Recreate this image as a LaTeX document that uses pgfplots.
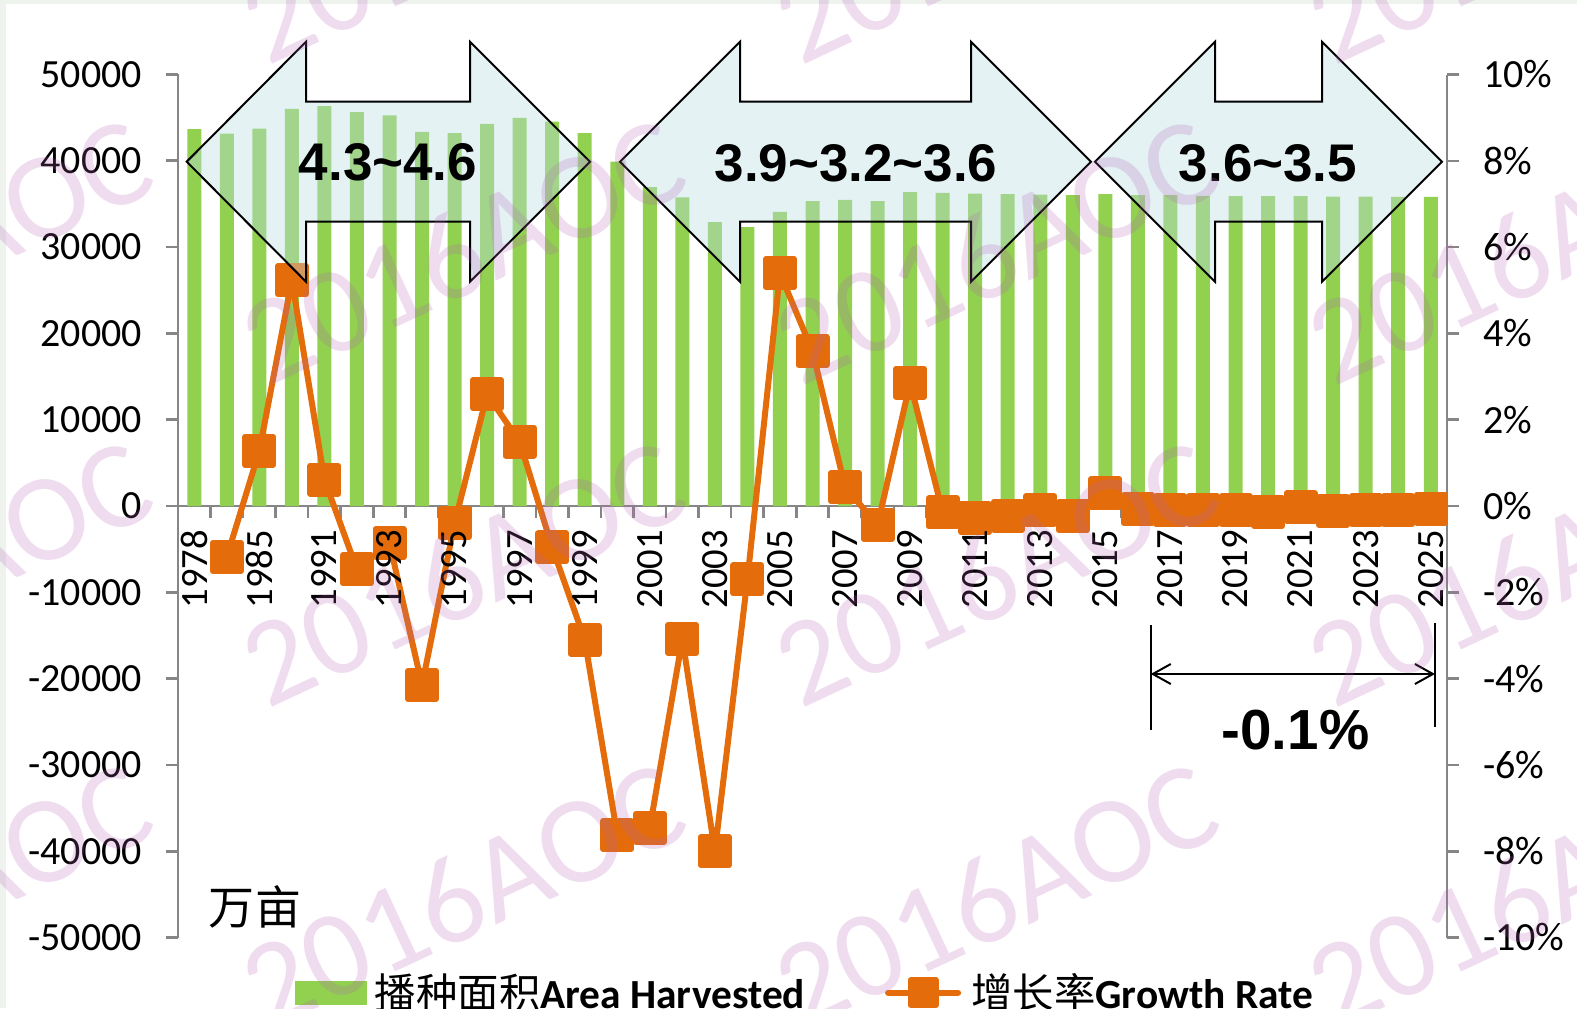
\documentclass[border=0pt]{standalone}
\usepackage{fontspec}
\setmainfont{Carlito}
\newfontfamily\cjk{Noto Sans CJK SC}
\newfontfamily\arialf{Liberation Sans}
\usepackage{pgfplots}
\pgfplotsset{compat=1.18}
\usetikzlibrary{arrows.meta}
\definecolor{barg}{RGB}{146,208,80}
\definecolor{lineo}{RGB}{228,108,10}
\definecolor{axg}{RGB}{134,134,134}
\definecolor{arrf}{RGB}{187,222,228}
\definecolor{wm}{RGB}{180,100,180}
\definecolor{bgc}{RGB}{238,243,238}
\newcommand\tickfont{\fontsize{20}{23}\selectfont}
\newcommand\xtickfont{\fontsize{19.3}{22}\selectfont}
\newcommand\legfont{\fontsize{20.7}{24}\selectfont}
\pgfplotsset{
  barleg/.style={legend image code/.code={\fill[barg] (0pt,-5.75pt) rectangle (35.5pt,5.75pt); \path (37.5pt,0pt);}},
  lineleg/.style={legend image code/.code={\draw[##1, line cap=round] (1.6pt,0pt) -- (36.6pt,0pt); \draw[##1, mark size=6.25pt] plot coordinates {(19.1pt,0pt)}; \path (39.7pt,0pt);}},
}
\pgfplotstableread{
x y
0 43660
1 43160
2 43740
3 46010
4 46320
5 45630
6 45250
7 43350
8 43200
9 44270
10 44970
11 44550
12 43200
13 39890
14 36940
15 35750
16 32880
17 32310
18 34080
19 35320
20 35470
21 35320
22 36360
23 36280
24 36210
25 36130
26 36090
27 36010
28 36130
29 36010
30 36010
31 35930
32 35900
33 35900
34 35900
35 35860
36 35860
37 35810
38 35810
}\areatab
\pgfplotstableread{
x y
1 -1.18
2 1.28
3 5.23
4 0.61
5 -1.47
6 -0.86
7 -4.15
8 -0.40
9 2.59
10 1.49
11 -0.96
12 -3.10
13 -7.62
14 -7.46
15 -3.08
16 -8.00
17 -1.70
18 5.39
19 3.59
20 0.44
21 -0.44
22 2.86
23 -0.15
24 -0.28
25 -0.23
26 -0.10
27 -0.24
28 0.30
29 -0.07
30 -0.10
31 -0.10
32 -0.10
33 -0.13
34 -0.03
35 -0.11
36 -0.10
37 -0.10
38 -0.06
}\ratetab
\begin{document}
\begin{tikzpicture}
\useasboundingbox (-89pt,-35.25pt) rectangle (699.5pt,468.75pt);
\begin{scope}[shift={(-89pt,468.75pt)}, x=0.5pt, y=-0.5pt]
\fill[bgc] (0,0) rectangle (6,1008);
\fill[bgc] (0,0) rectangle (1577,4);
\end{scope}
\begin{axis}[
  at={(0pt,0pt)}, anchor=south west,
  scale only axis, width=634.5pt, height=431.5pt,
  xmin=-0.5, xmax=38.5, ymin=-50000, ymax=50000,
  scaled y ticks=false,
  axis y line*=left, axis x line*=middle,
  axis line style={axg, line width=1.3pt},
  every tick/.style={axg, line width=1.3pt},
  tick align=outside,
  major tick length=6pt,
  ytick={-50000,-40000,-30000,-20000,-10000,0,10000,20000,30000,40000,50000},
  yticklabels={-50000,-40000,-30000,-20000,-10000,0,10000,20000,30000,40000,50000},
  yticklabel style={font=\tickfont, text=black, xshift=-8.5pt},
  xtick={0.5,1.5,...,37.5},
  xticklabels={},
  clip=false,
]
\addplot[ybar, bar width=7pt, fill=barg, draw=none] table[x=x,y=y] {\areatab};
\end{axis}
\begin{axis}[
  at={(0pt,0pt)}, anchor=south west,
  scale only axis, width=634.5pt, height=431.5pt,
  xmin=-0.5, xmax=38.5, ymin=-10, ymax=10,
  axis y line*=right, axis x line=none,
  y axis line style={axg, line width=1.3pt},
  every tick/.style={axg, line width=1.3pt},
  tick align=outside,
  major tick length=6pt,
  ytick={-10,-8,-6,-4,-2,0,2,4,6,8,10},
  yticklabels={-10\%,-8\%,-6\%,-4\%,-2\%,0\%,2\%,4\%,6\%,8\%,10\%},
  yticklabel style={font=\tickfont, text=black, xshift=8.5pt},
  clip=false,
  legend columns=2,
  legend style={at={(0.495,-0.064)}, anchor=center, draw=none, fill=none,
    font=\legfont, /tikz/every even column/.append style={column sep=38pt}},
  legend cell align=left,
]
\addlegendimage{barleg}
\addlegendentry{{\cjk 播种面积}\textbf{Area Harvested}}
\addplot[lineo, line width=3pt, line join=round, mark=square*, mark size=7pt,
  mark options={fill=lineo, draw=none}, lineleg]
  table[x=x,y=y] {\ratetab};
\addlegendentry{{\cjk 增长率}\textbf{Growth Rate}}
\end{axis}
\begin{axis}[
  at={(0pt,0pt)}, anchor=south west,
  scale only axis, width=634.5pt, height=431.5pt,
  xmin=-0.5, xmax=38.5, ymin=-10, ymax=10,
  axis y line=none, axis x line*=middle,
  x axis line style={draw=none},
  xtick=\empty,
  extra x ticks={0,2,...,38},
  extra x tick labels={1978,1985,1991,1993,1995,1997,1999,2001,2003,2005,2007,2009,2011,2013,2015,2017,2019,2021,2023,2025},
  extra x tick style={major tick length=0pt},
  xticklabel style={rotate=90, anchor=east, font=\xtickfont, text=black, xshift=-8.5pt},
  clip=false,
]
\end{axis}
\begin{scope}[shift={(-89pt,468.75pt)}, x=0.5pt, y=-0.5pt]
\filldraw[fill=arrf, fill opacity=0.4, draw=black, line width=1pt]
  (186.7,161.7) -- (306,41.7) -- (306,101.7) -- (470,101.7) -- (470,41.7) -- (590,161.7)
  -- (470,281.7) -- (470,221.7) -- (306,221.7) -- (306,281.7) -- cycle;
\filldraw[fill=arrf, fill opacity=0.4, draw=black, line width=1pt]
  (620,161.7) -- (740,41.7) -- (740,101.7) -- (971,101.7) -- (971,41.7) -- (1091,161.7)
  -- (971,281.7) -- (971,221.7) -- (740,221.7) -- (740,281.7) -- cycle;
\filldraw[fill=arrf, fill opacity=0.4, draw=black, line width=1pt]
  (1095,161.7) -- (1215,41.7) -- (1215,101.7) -- (1322,101.7) -- (1322,41.7) -- (1442,161.7)
  -- (1322,281.7) -- (1322,221.7) -- (1215,221.7) -- (1215,281.7) -- cycle;
\node[font=\arialf\bfseries\fontsize{26.5}{30}\selectfont] at (388,162) {4.3\textasciitilde 4.6};
\node[font=\arialf\bfseries\fontsize{26.5}{30}\selectfont] at (856,163) {3.9\textasciitilde 3.2\textasciitilde 3.6};
\node[font=\arialf\bfseries\fontsize{26.5}{30}\selectfont] at (1268,163) {3.6\textasciitilde 3.5};
\draw[black, line width=1pt] (1150.7,625) -- (1150.7,730);
\draw[black, line width=1pt] (1435,623) -- (1435,727);
\draw[black, line width=1pt, {Straight Barb[length=9pt,width=10pt]}-{Straight Barb[length=9pt,width=10pt]}] (1150.7,674) -- (1435,674);
\node[font=\arialf\bfseries\fontsize{28.25}{32}\selectfont] at (1295.5,730) {-0.1\%};
\node[font=\cjk\fontsize{23}{26}\selectfont] at (255,907) {万亩};
\foreach \cx in {-70,463,996,1529} {
  \foreach \cy in {-70,251,573,895} {
    \node[rotate=25, font=\fontsize{62}{70}\selectfont, text=wm, text opacity=0.22] at (\cx,\cy) {2016AOC};
  }
}
\end{scope}
\end{tikzpicture}
\end{document}
